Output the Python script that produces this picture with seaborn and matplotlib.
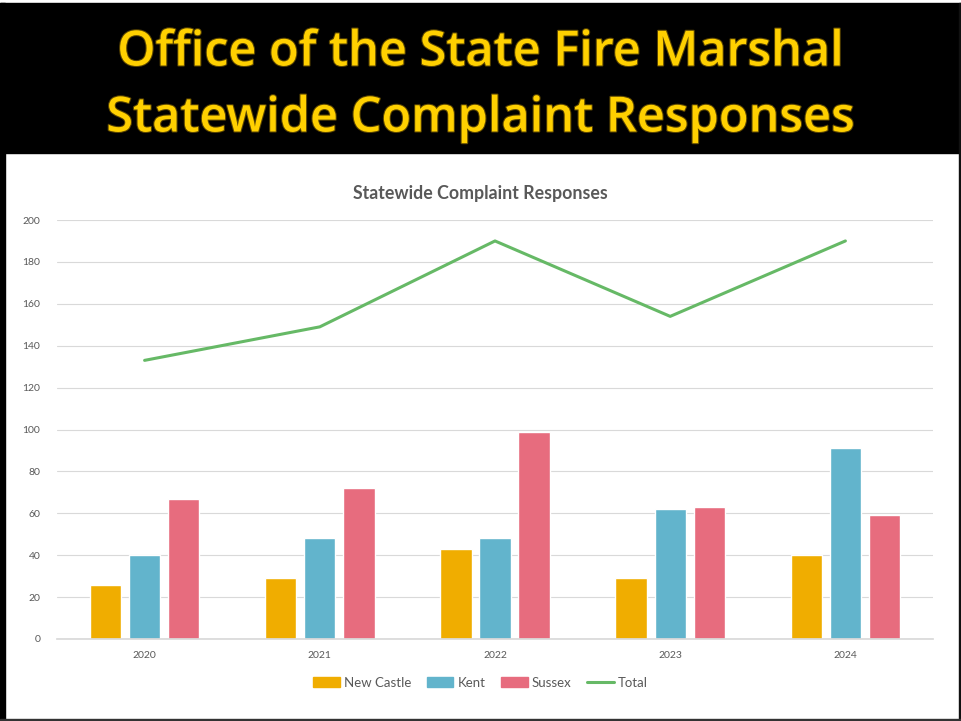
import matplotlib
matplotlib.use("Agg")
import matplotlib.pyplot as plt
import matplotlib.patches as mpatches
import matplotlib.patheffects as pe
from matplotlib.lines import Line2D
import seaborn as sns
import pandas as pd
import numpy as np

years = ["2020", "2021", "2022", "2023", "2024"]
new_castle = [26, 29, 43, 29, 40]
kent = [40, 48, 48, 62, 91]
sussex = [67, 72, 99, 63, 59]
total = [133, 149, 190, 154, 190]

counties = ["New Castle", "Kent", "Sussex"]
colors = {"New Castle": "#F0AD00", "Kent": "#62B4CC", "Sussex": "#E76C7E"}
line_color = "#66B966"
text_gray = "#595959"

df = pd.DataFrame({
    "Year": years * 3,
    "County": [c for c in counties for _ in years],
    "Responses": new_castle + kent + sussex,
})
df_total = pd.DataFrame({"pos": np.arange(len(years)), "Total": total})

sns.set_theme(style="white")
plt.rcParams["font.family"] = ["Lato", "DejaVu Sans"]

fig = plt.figure(figsize=(9.61, 7.21), dpi=100)
fig.patch.set_facecolor("white")

# black header band and frame
W, H = 961, 721
fig.patches.append(mpatches.Rectangle((0, 1 - 153 / H), 1, 150 / H, transform=fig.transFigure,
                                      color="black", zorder=0))
fig.patches.append(mpatches.Rectangle((0, 0), 4.5 / W, 1 - 3 / H, transform=fig.transFigure,
                                      color="black", zorder=0))
fig.patches.append(mpatches.Rectangle((1 - 2.5 / W, 0), 2.5 / W, 1 - 3 / H, transform=fig.transFigure,
                                      color="#111111", zorder=0))
fig.patches.append(mpatches.Rectangle((0, 0), 1, 2.5 / H, transform=fig.transFigure,
                                      color="#333333", zorder=0))

outline = [pe.withStroke(linewidth=1.5, foreground="#5a4500")]
fig.text(0.5, 1 - 53 / H, "Office of the State Fire Marshal", ha="center", va="center",
         fontsize=35, fontweight="semibold", color="#FFD000", family=["Open Sans", "DejaVu Sans"],
         path_effects=outline)
fig.text(0.5, 1 - 119 / H, "Statewide Complaint Responses", ha="center", va="center",
         fontsize=35, fontweight="semibold", color="#FFD000", family=["Open Sans", "DejaVu Sans"],
         path_effects=outline)

ax = fig.add_axes([57 / W, 1 - 639 / H, (933 - 57) / W, (639 - 220) / H])
sns.barplot(data=df, x="Year", y="Responses", hue="County", palette=colors,
            width=0.67, gap=0.2, ax=ax, legend=False, saturation=1)
sns.lineplot(data=df_total, x="pos", y="Total", color=line_color, linewidth=2.2, ax=ax)

ax.set_xlim(-0.5, 4.5)
ax.set_ylim(0, 200)
ax.set_yticks(range(0, 201, 20))
ax.set_xticks(range(len(years)))
ax.set_xticklabels(years)
ax.set_xlabel("")
ax.set_ylabel("")
ax.grid(axis="y", color="#D9D9D9", linewidth=0.8)
ax.set_axisbelow(True)
for s in ["top", "right", "left"]:
    ax.spines[s].set_visible(False)
ax.spines["bottom"].set_color("#D9D9D9")
ax.tick_params(axis="both", length=0, labelsize=7.5, colors=text_gray)
ax.tick_params(axis="y", pad=12)
ax.tick_params(axis="x", pad=9)

fig.text(0.5, 1 - 194 / H, "Statewide Complaint Responses", ha="center", va="center",
         fontsize=12.8, fontweight="bold", color=text_gray)

handles = [mpatches.Patch(color=colors[c], label=c) for c in counties]
handles.append(Line2D([0], [0], color=line_color, linewidth=2.2, label="Total"))
fig.legend(handles=handles, loc="center", bbox_to_anchor=(0.5, 1 - 683 / H), ncol=4,
           frameon=False, fontsize=9.5, labelcolor=text_gray, handlelength=2.0,
           handleheight=0.8, handletextpad=0.3, columnspacing=1.2)

fig.savefig("out.png", dpi=100, facecolor=fig.get_facecolor())
